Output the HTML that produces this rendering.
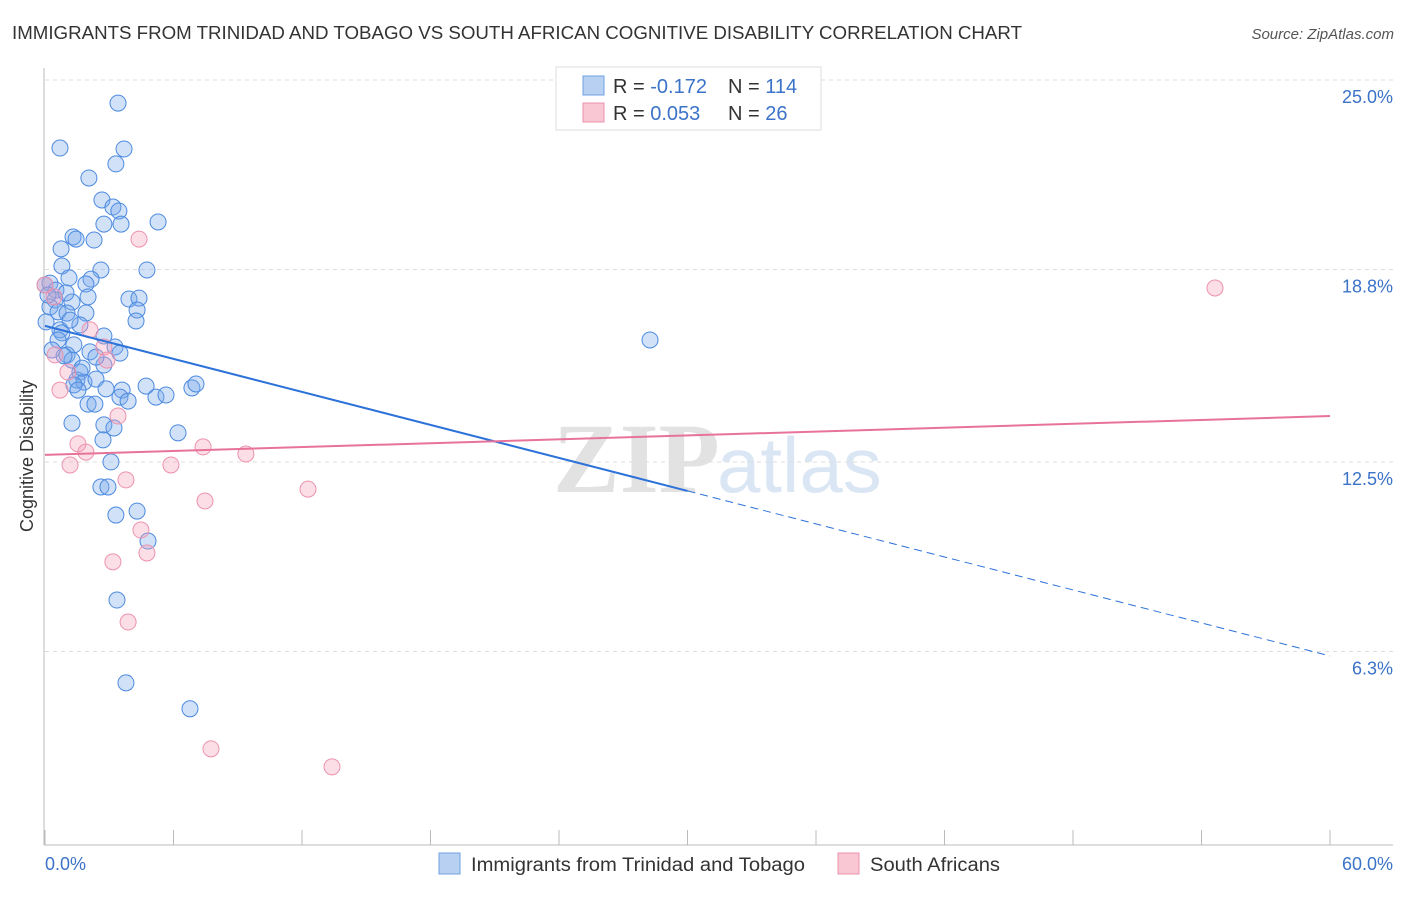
<!DOCTYPE html>
<html><head><meta charset="utf-8"><style>
body{margin:0;background:#fff;font-family:"Liberation Sans",sans-serif;}
</style></head><body>
<svg id="chart" width="1406" height="892" xmlns="http://www.w3.org/2000/svg" font-family="Liberation Sans, sans-serif">
<text x="12" y="39" font-size="18" fill="#333" textLength="1010" lengthAdjust="spacingAndGlyphs">IMMIGRANTS FROM TRINIDAD AND TOBAGO VS SOUTH AFRICAN COGNITIVE DISABILITY CORRELATION CHART</text>
<text x="1394" y="39" font-size="15" fill="#555" text-anchor="end" font-style="italic">Source: ZipAtlas.com</text>
<g>
<text x="553" y="492" font-size="100" fill="#e2e2e2" font-family="Liberation Serif, serif" font-weight="bold">ZIP</text>
<text x="717" y="492" font-size="78" fill="#dbe6f5">atlas</text>
</g>
<g id="grid"></g>
<line x1="44" y1="68" x2="44" y2="845" stroke="#bbb"/>
<line x1="44" y1="845" x2="1393" y2="845" stroke="#bbb"/>
<g id="xticks"></g>
<text transform="translate(33,456) rotate(-90)" font-size="18" fill="#333" text-anchor="middle">Cognitive Disability</text>
<text x="45" y="870" font-size="18" fill="#3b73c8">0.0%</text>
<text x="1393" y="870" font-size="18" fill="#3b73c8" text-anchor="end">60.0%</text>
<g id="marks"></g>
<g id="trends"></g>
<g>
<rect x="556" y="67" width="265" height="63" fill="#fff" stroke="#ddd"/>
<rect x="583" y="76" width="21" height="19" fill="#b8d1f3" stroke="#6f9fe0"/>
<rect x="583" y="103" width="21" height="19" fill="#f9c6d4" stroke="#ec93ad"/>
<text x="613" y="93" font-size="20" fill="#333">R = <tspan fill="#3b73c8">-0.172</tspan><tspan x="728">N = </tspan><tspan fill="#3b73c8">114</tspan></text>
<text x="613" y="120" font-size="20" fill="#333">R = <tspan fill="#3b73c8"> 0.053</tspan><tspan x="728">N = </tspan><tspan fill="#3b73c8"> 26</tspan></text>
</g>
<g>
<rect x="439" y="853" width="21" height="21" fill="#b8d1f3" stroke="#6f9fe0"/>
<text x="471" y="871" font-size="19" fill="#333" textLength="334" lengthAdjust="spacingAndGlyphs">Immigrants from Trinidad and Tobago</text>
<rect x="838" y="853" width="21" height="21" fill="#f9c6d4" stroke="#ec93ad"/>
<text x="870" y="871" font-size="19" fill="#333" textLength="130" lengthAdjust="spacingAndGlyphs">South Africans</text>
</g>
</svg>
<script>
const yTicks=[25.0,18.8,12.5,6.3];
const yTickLabels=["25.0%","18.8%","12.5%","6.3%"];
const blueX=[3.41,0.70,3.69,3.31,2.05,2.66,3.17,3.45,5.28,2.75,3.55,1.31,1.45,2.29,0.75,0.79,2.61,4.76,1.12,2.15,1.91,0.23,0.51,0,1.26,0.47,3.92,4.39,4.30,4.25,0.23,0.61,1.03,1.91,0.05,0.70,0.79,1.63,2.75,0.61,1.35,3.27,1.03,2.10,3.50,1.26,2.75,1.63,1.49,1.82,1.35,2.38,1.54,2.85,4.72,3.60,3.50,5.18,5.65,6.86,7.05,2.01,2.33,3.88,1.26,2.75,3.22,6.21,2.71,3.08,2.61,2.94,3.31,4.30,4.81,3.36,3.78,6.77,28.25,0.89,1.73,2.38,0.33,1.17,2.01,0.98,0.14];
const blueY=[24.80,23.33,23.30,22.81,22.35,21.63,21.40,21.27,20.91,20.84,20.84,20.42,20.35,20.32,20.03,19.47,19.34,19.34,19.08,19.04,18.88,18.91,18.68,18.85,18.29,18.36,18.39,18.42,18.03,17.67,18.13,17.97,17.93,17.93,17.64,17.38,17.28,17.54,17.18,17.05,16.89,16.82,16.56,16.66,16.62,16.39,16.23,16.00,15.74,15.67,15.58,15.77,15.41,15.45,15.54,15.41,15.18,15.18,15.25,15.48,15.61,14.95,14.95,15.05,14.33,14.27,14.17,14.01,13.78,13.06,12.24,12.24,11.32,11.45,10.47,8.54,5.83,4.98,17.05,16.53,16.13,16.49,16.72,17.70,18.46,18.59,18.52];
const pinkX=[4.39,54.63,0,0.42,2.10,2.75,0.47,2.89,0.70,3.41,1.54,1.91,1.17,7.38,9.38,5.88,3.78,12.28,7.47,4.48,3.17,4.76,3.88,7.75,13.40,1.07];
const pinkY=[20.35,18.75,18.85,18.46,17.38,16.82,16.56,16.39,15.41,14.56,13.65,13.38,12.96,13.55,13.32,12.96,12.47,12.17,11.78,10.83,9.79,10.08,7.82,3.67,3.08,16.00];
const blueTrend=[17.51,6.71];
const pinkTrend=[13.29,14.56];
const blueSolidEnd=30;
const NS="http://www.w3.org/2000/svg";
function sx(v){return 45+v*1285/60;}
function sy(v){return 97+(25-v)*30.56;}
function mk(t,a,p){const e=document.createElementNS(NS,t);for(const k in a)e.setAttribute(k,a[k]);p.appendChild(e);return e;}
const grid=document.getElementById('grid');
yTicks.forEach((t,i)=>{
  const y=sy(t)-17;
  const l=mk('line',{x1:45,x2:1393,y1:y,y2:y,stroke:'#ddd','stroke-dasharray':'4,4'},grid);
  
  
  const tx=mk('text',{x:1393,y:sy(t)+6,'font-size':18,fill:'#3b73c8','text-anchor':'end'},grid);
  tx.textContent=yTickLabels[i];
  
  
});
const xt=document.getElementById('xticks');
for(let i=0;i<=10;i++){
  const x=sx(i*6);
  const l=mk('line',{x1:x,x2:x,y1:830,y2:845,stroke:'#bbb'},xt);
  
  
}
const marks=document.getElementById('marks');
blueX.forEach((x,i)=>{
  const c=mk('circle',{cx:sx(x),cy:sy(blueY[i]),r:8,fill:'rgba(120,170,235,0.35)',stroke:'#4d8ae0','stroke-width':1},marks);
  
  
});
pinkX.forEach((x,i)=>{
  const c=mk('circle',{cx:sx(x),cy:sy(pinkY[i]),r:8,fill:'rgba(245,160,185,0.35)',stroke:'#ec93ad','stroke-width':1},marks);
  
  
});
const tr=document.getElementById('trends');
const bAt=x=>blueTrend[0]+(blueTrend[1]-blueTrend[0])*x/60;
const b1=mk('line',{x1:sx(0),y1:sy(bAt(0)),x2:sx(blueSolidEnd),y2:sy(bAt(blueSolidEnd)),stroke:'#2d72d9','stroke-width':2},tr);


const b2=mk('line',{x1:sx(blueSolidEnd),y1:sy(bAt(blueSolidEnd)),x2:sx(60),y2:sy(bAt(60)),stroke:'#2d72d9','stroke-width':1,'stroke-dasharray':'8,5'},tr);


const p1=mk('line',{x1:sx(0),y1:sy(pinkTrend[0]),x2:sx(60),y2:sy(pinkTrend[1]),stroke:'#e8739a','stroke-width':2},tr);


</script>
</body></html>
